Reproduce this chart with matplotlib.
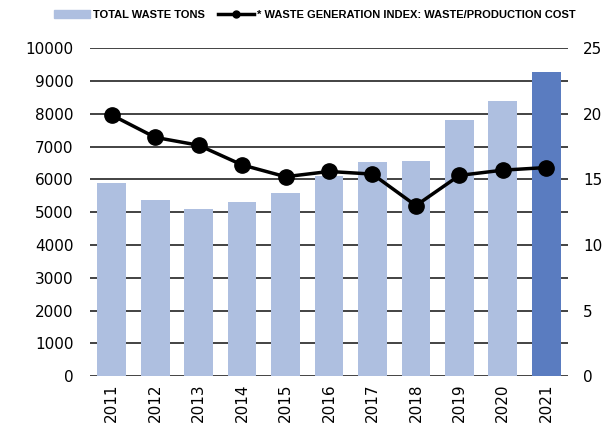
import matplotlib
matplotlib.use("Agg")
import matplotlib.pyplot as plt
from matplotlib.lines import Line2D
from matplotlib.patches import Patch

years = ["2011", "2012", "2013", "2014", "2015", "2016", "2017", "2018", "2019", "2020", "2021"]
waste_tons = [5880, 5370, 5090, 5300, 5580, 6100, 6520, 6550, 7800, 8380, 9270]
waste_index = [19.9, 18.2, 17.6, 16.1, 15.2, 15.6, 15.4, 13.0, 15.3, 15.7, 15.9]

light = "#aebfe0"
dark = "#5a7cc0"
colors = [light] * (len(years) - 1) + [dark]

fig = plt.figure(figsize=(6.06, 4.26), dpi=100)
ax = fig.add_axes([90 / 606, 0.117, 478 / 606, 0.77])
x = list(range(len(years)))
ax.bar(x, waste_tons, width=0.66, color=colors, zorder=2)
ax.set_ylim(0, 10000)
ax.set_yticks(range(0, 10001, 1000))
ax.set_xlim(-0.5, len(years) - 0.5)
ax.set_xticks(x)
ax.set_xticklabels(years, rotation=90, fontsize=11)
ax.tick_params(axis="y", labelsize=11, length=0, pad=12)
ax.tick_params(axis="x", length=0, pad=5)
ax.grid(axis="y", color="#222222", linewidth=1.2, zorder=1)
for s in ax.spines.values():
    s.set_visible(False)
ax.set_axisbelow(True)

ax2 = ax.twinx()
ax2.plot(x, waste_index, color="black", linewidth=2.5, marker="o", markersize=11, zorder=3)
ax2.set_ylim(0, 25)
ax2.set_yticks(range(0, 26, 5))
ax2.tick_params(axis="y", labelsize=11, length=0, pad=11)
for s in ax2.spines.values():
    s.set_visible(False)

handles = [Patch(color=light), Line2D([0], [0], color="black", linewidth=2.5, marker="o", markersize=5)]
labels = ["TOTAL WASTE TONS", "* WASTE GENERATION INDEX: WASTE/PRODUCTION COST"]
fig.legend(handles, labels, loc="upper center", bbox_to_anchor=(0.52, 1.0), ncol=2, frameon=False,
           prop={"family": "Liberation Sans", "weight": "bold", "size": 8}, handlelength=3.2,
           handletextpad=0.3, columnspacing=1.2)

fig.savefig("out.png", dpi=100)
